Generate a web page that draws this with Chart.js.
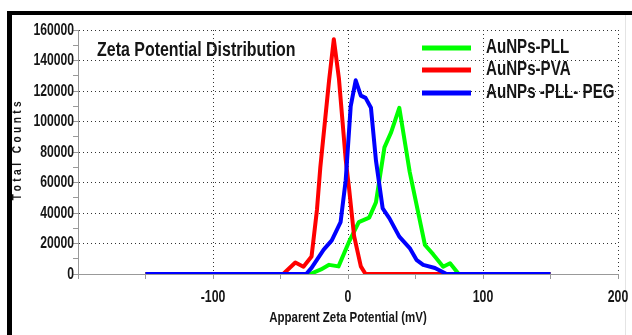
<!DOCTYPE html>
<html>
<head>
<meta charset="utf-8">
<script src="https://cdn.jsdelivr.net/npm/chart.js@4.4.1/dist/chart.umd.min.js"></script>
<style>
  html, body { margin: 0; padding: 0; background: #fff; }
  #wrap { position: relative; width: 632px; height: 335px; overflow: hidden; }
  #zetaChart { position: absolute; left: 0; top: 0; }
  .bar { position: absolute; background: #000; }
</style>
</head>
<body>
<div id="wrap">
  <div class="bar" style="left:625px;top:15px;width:1px;height:320px;background:#e4e4e4"></div>
  <canvas id="zetaChart" width="632" height="335"></canvas>
  <div class="bar" style="left:7px;top:11px;width:625px;height:4px"></div>
  <div class="bar" style="left:7px;top:11px;width:5px;height:324px"></div>
</div>
<script>
// readings, x in mV, y in counts
const pllX = [-150, -28, -20, -14, -7, 0.7, 8, 15.7, 20.7, 27, 32, 38, 45.7, 57, 63, 70.5, 75.6, 82, 150];
const pllY = [0, 0, 3000, 6000, 5000, 21000, 34000, 37000, 47000, 83000, 93000, 109000, 67000, 19000, 13000, 4800, 7000, 0, 0];

const pvaX = [-150, -48, -39, -33, -27, -23, -20.5, -14, -10.5, -6.7, -1.7, 0.8, 4.5, 9.5, 13, 150];
const pvaY = [0, 0, 7500, 4800, 11500, 42000, 70000, 127000, 154000, 128000, 75000, 56000, 25000, 5000, 0, 0];

const pegX = [-150, -31, -27, -18, -12, -5.5, -1.7, 2, 5.7, 9.5, 13, 17, 20.7, 25.7, 30.7, 38, 45.7, 50.7, 55.7, 64.4, 73, 150];
const pegY = [0, 0, 4000, 16000, 22000, 34000, 61500, 110000, 127000, 117000, 115500, 109000, 74500, 43000, 36500, 24500, 17000, 9300, 6000, 3900, 0, 0];

const seriesNames = ["AuNPs-PLL", "AuNPs-PVA", "AuNPs -PLL- PEG"];
const seriesColors = ["#00ff00", "#ff0000", "#0000ff"];
const xTickLabels = [-100, 0, 100, 200];
const yTickLabels = [0, 20000, 40000, 60000, 80000, 100000, 120000, 140000, 160000];

const FONT = "'Liberation Sans', Arial, sans-serif";

function pts(xs, ys) {
    return xs.map((x, i) => ({ x: x, y: ys[i] }));
}

// the reference uses a condensed, slightly tall face: squeeze Liberation Sans
function squeezed(ctx, text, x, y, size, align, sx, sy) {
    ctx.save();
    ctx.translate(x, y);
    ctx.scale(sx, sy);
    ctx.font = "bold " + size + "px " + FONT;
    ctx.textAlign = align;
    ctx.textBaseline = 'middle';
    ctx.fillText(text, 0, 0);
    ctx.restore();
}

const overlay = {
    id: 'overlay',
    afterDraw(chart) {
        const ctx = chart.ctx;
        const xs = chart.scales.x, ys = chart.scales.y;
        ctx.save();
        ctx.fillStyle = '#151515';

        xTickLabels.forEach(v => {
            squeezed(ctx, String(v), xs.getPixelForValue(v), 297, 15, 'center', 0.82, 1.12);
        });
        yTickLabels.forEach(v => {
            squeezed(ctx, String(v), 74, ys.getPixelForValue(v), 15, 'right', 0.81, 1.12);
        });

        squeezed(ctx, "Zeta Potential Distribution", 97, 50, 19, 'left', 0.84, 1.1);

        const rows = [48, 70, 93];
        seriesNames.forEach((name, i) => {
            ctx.strokeStyle = seriesColors[i];
            ctx.lineWidth = 5;
            ctx.beginPath();
            ctx.moveTo(422, rows[i]);
            ctx.lineTo(471, rows[i]);
            ctx.stroke();
            squeezed(ctx, name, 486, rows[i] - 1, 18, 'left', 0.84, 1.12);
        });

        squeezed(ctx, "Apparent Zeta Potential (mV)", 348, 318, 14, 'center', 0.82, 1.1);

        ctx.translate(18, 151);
        ctx.rotate(-Math.PI / 2);
        ctx.letterSpacing = '4px';
        squeezed(ctx, "Total Counts", 2, 0, 12, 'center', 0.85, 1.05);
        ctx.restore();
    }
};

const ctx = document.getElementById("zetaChart").getContext("2d");
new Chart(ctx, {
    type: 'scatter',
    data: {
        datasets: [
            { label: seriesNames[2], data: pts(pegX, pegY), borderColor: seriesColors[2], order: 0 },
            { label: seriesNames[1], data: pts(pvaX, pvaY), borderColor: seriesColors[1], order: 1 },
            { label: seriesNames[0], data: pts(pllX, pllY), borderColor: seriesColors[0], order: 2 }
        ].map(d => Object.assign(d, {
            showLine: true, borderWidth: 4, borderJoinStyle: 'round', pointRadius: 0, tension: 0, fill: false
        }))
    },
    options: {
        responsive: false,
        animation: false,
        layout: { padding: { top: 30, right: 14, left: 0, bottom: 0 } },
        plugins: { legend: { display: false }, tooltip: { enabled: false } },
        scales: {
            x: {
                type: 'linear',
                min: -200,
                max: 200,
                afterFit(scale) { scale.height = 61; },
                ticks: { stepSize: 50, autoSkip: false, maxRotation: 0, display: false },
                grid: {
                    color: c => (c.tick && c.tick.value % 100 === 0 && c.tick.value !== -200) ? '#333' : 'rgba(0,0,0,0)',
                    tickColor: '#999',
                    tickLength: 5,
                    lineWidth: 1
                },
                border: { color: '#999', width: 1, dash: [1, 3] }
            },
            y: {
                min: 0,
                max: 160000,
                afterFit(scale) { scale.width = 78; },
                ticks: { stepSize: 10000, autoSkip: false, display: false },
                grid: {
                    color: c => (c.tick && c.tick.value % 20000 === 0 && c.tick.value !== 0) ? '#333' : 'rgba(0,0,0,0)',
                    tickColor: '#999',
                    tickLength: 5,
                    lineWidth: 1
                },
                border: { color: '#999', width: 1, dash: [1, 3] }
            }
        }
    },
    plugins: [overlay]
});
</script>
</body>
</html>
